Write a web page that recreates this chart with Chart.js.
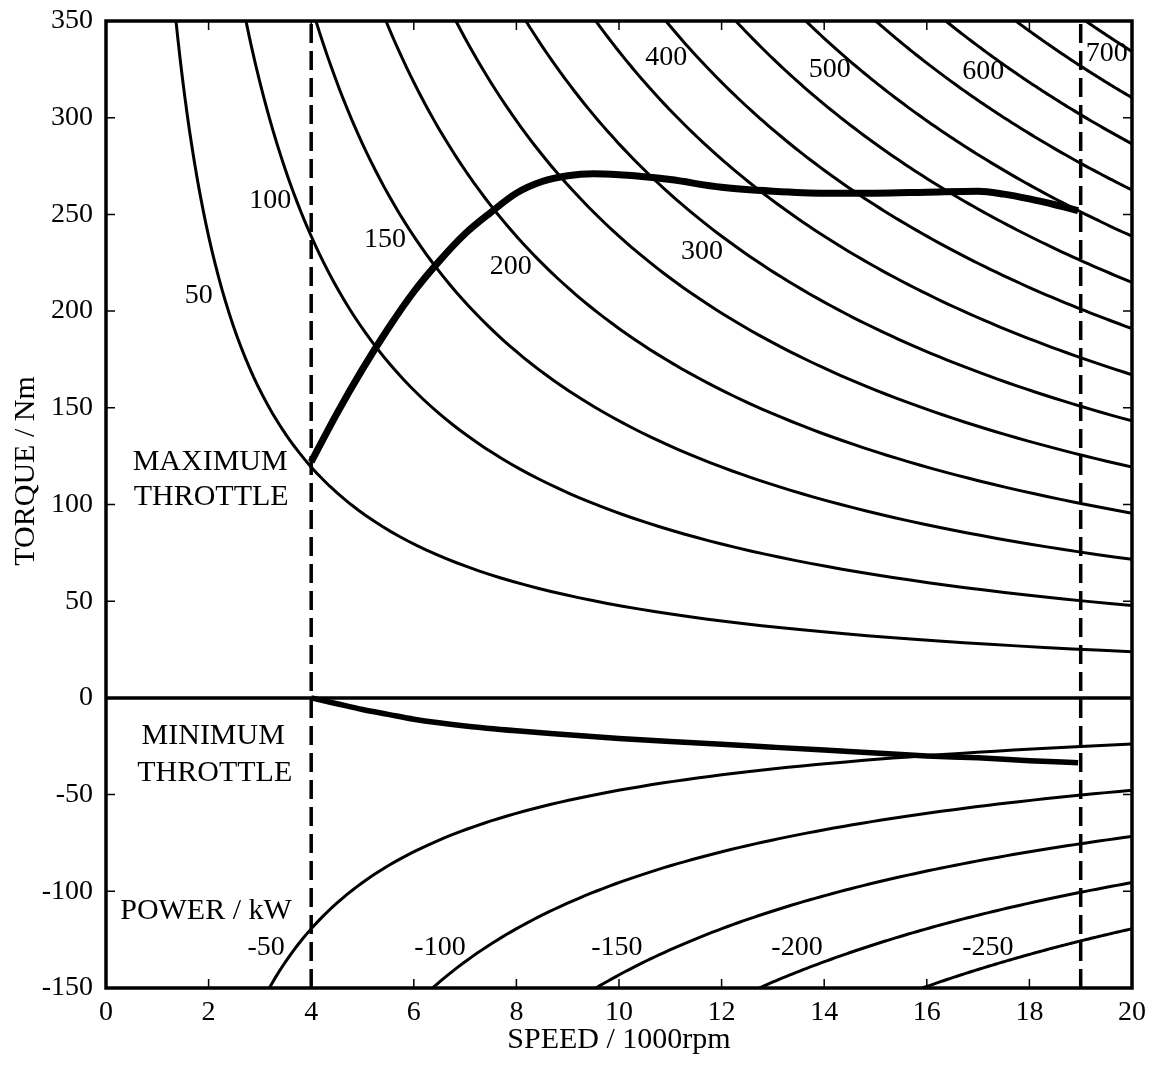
<!DOCTYPE html>
<html>
<head>
<meta charset="utf-8">
<title>Torque / speed map</title>
<script src="https://cdn.jsdelivr.net/npm/chart.js@4.4.1/dist/chart.umd.min.js"></script>
<style>
  html, body { margin: 0; padding: 0; background: #fff; }
  #wrap { width: 1159px; height: 1073px; }
</style>
</head>
<body>
<div id="wrap"><canvas id="torqueChart" width="1159" height="1073"></canvas></div>
<script>
// constant power lines (kW)
const drivePowers = [50, 100, 150, 200, 250, 300, 350, 400, 450, 500, 550, 600, 650, 700];
const brakePowers = [-50, -100, -150, -200, -250];

// maximum throttle curve (speed in 1000 rpm, torque in Nm)
const maxThrottleSpeed = [4.0, 4.5, 5.0, 5.5, 6.0, 6.5, 7.0, 7.5, 8.0, 8.5, 9.0, 9.5, 10.0, 10.5, 11.0, 12.0, 13.0, 14.0, 15.0, 16.0, 17.0, 17.5, 18.0, 18.5, 18.95];
const maxThrottleTorque = [122, 147, 170, 191, 210, 226, 240, 251, 261, 267, 270, 271, 270.5, 269.5, 268, 264, 262, 261, 261, 261.5, 262, 260.5, 258, 255, 252];

// minimum throttle curve
const minThrottleSpeed = [4.0, 4.5, 5.0, 5.5, 6.0, 7.0, 8.0, 9.0, 10.0, 11.0, 12.0, 13.0, 14.0, 15.0, 16.0, 17.0, 18.0, 18.95];
const minThrottleTorque = [0, -3, -6, -8.5, -11, -14.5, -17, -19, -21, -22.5, -24, -25.5, -27, -28.5, -30, -31, -32.5, -33.5];

// speed limits (dashed lines)
const speedLimits = [4, 19];

// text on the plot
const curveLabels = ["50", "100", "150", "200", "300", "400", "500", "600", "700", "-50", "-100", "-150", "-200", "-250"];
const curveLabelX = [1.81, 3.20, 5.44, 7.89, 11.62, 10.92, 14.11, 17.10, 19.51, 3.12, 6.51, 9.96, 13.47, 17.19];
const curveLabelY = [208, 257, 237, 223, 231, 331, 325, 324, 333, -129, -129, -129, -129, -129];

const noteLabels = ["MAXIMUM", "THROTTLE", "MINIMUM", "THROTTLE", "POWER / kW"];
const noteLabelX = [2.03, 2.05, 2.09, 2.12, 1.95];
const noteLabelY = [122, 104, -20, -39, -110.5];

const FONT = "'Liberation Serif', 'Times New Roman', serif";

// constant power: torque [Nm] = 60 * P[W] / (2*pi*n[rpm]), speed axis in 1000 rpm
function powerLine(kw) {
  const k = 60 * kw / (2 * Math.PI);
  const start = Math.abs(k) / (kw > 0 ? 350 : 150);
  const pts = [];
  const n = 90;
  for (let i = 0; i <= n; i++) {
    const s = start * Math.pow(20 / start, i / n);
    pts.push({ x: s, y: k / s });
  }
  return pts;
}

function toPoints(xs, ys) {
  return xs.map((x, i) => ({ x: x, y: ys[i] }));
}

const datasets = [];

drivePowers.concat(brakePowers).forEach((p) => {
  datasets.push({
    data: powerLine(p),
    borderColor: "#000",
    borderWidth: 3,
    tension: 0,
  });
});

// zero torque line
datasets.push({
  data: [{ x: 0, y: 0 }, { x: 20, y: 0 }],
  borderColor: "#000",
  borderWidth: 3.5,
});

// speed limits
speedLimits.forEach((s) => {
  datasets.push({
    data: [{ x: s, y: -150 }, { x: s, y: 350 }],
    borderColor: "#000",
    borderWidth: 3.5,
    borderDash: [19, 8],
  });
});

datasets.push({
  data: toPoints(maxThrottleSpeed, maxThrottleTorque),
  borderColor: "#000",
  borderWidth: 7,
  cubicInterpolationMode: "monotone",
});

datasets.push({
  data: toPoints(minThrottleSpeed, minThrottleTorque),
  borderColor: "#000",
  borderWidth: 5.5,
  cubicInterpolationMode: "monotone",
});

// frame, inner ticks, labels, axis titles
const decorPlugin = {
  id: "decor",
  afterDatasetsDraw(chart) {
    const { ctx, chartArea: a, scales } = chart;
    const xs = scales.x;
    const ys = scales.y;
    ctx.save();

    // inner tick marks on all four sides
    ctx.strokeStyle = "#000";
    ctx.lineWidth = 1.5;
    ctx.beginPath();
    xs.ticks.forEach((t) => {
      const px = xs.getPixelForValue(t.value);
      ctx.moveTo(px, a.bottom);
      ctx.lineTo(px, a.bottom - 9);
      ctx.moveTo(px, a.top);
      ctx.lineTo(px, a.top + 9);
    });
    ys.ticks.forEach((t) => {
      const py = ys.getPixelForValue(t.value);
      ctx.moveTo(a.left, py);
      ctx.lineTo(a.left + 9, py);
      ctx.moveTo(a.right, py);
      ctx.lineTo(a.right - 9, py);
    });
    ctx.stroke();

    // frame
    ctx.lineWidth = 3.5;
    ctx.strokeRect(a.left, a.top, a.right - a.left, a.bottom - a.top);

    // curve labels
    ctx.fillStyle = "#000";
    ctx.textAlign = "center";
    ctx.textBaseline = "middle";
    ctx.font = "28px " + FONT;
    curveLabels.forEach((txt, i) => {
      ctx.fillText(txt, xs.getPixelForValue(curveLabelX[i]), ys.getPixelForValue(curveLabelY[i]));
    });

    ctx.font = "30px " + FONT;
    noteLabels.forEach((txt, i) => {
      ctx.fillText(txt, xs.getPixelForValue(noteLabelX[i]), ys.getPixelForValue(noteLabelY[i]));
    });

    // axis titles
    ctx.textBaseline = "alphabetic";
    ctx.fillText("SPEED / 1000rpm", (a.left + a.right) / 2, 1048);
    ctx.translate(34, 471);
    ctx.rotate(-Math.PI / 2);
    ctx.fillText("TORQUE / Nm", 0, 0);

    ctx.restore();
  },
};

const ctx = document.getElementById("torqueChart").getContext("2d");

new Chart(ctx, {
  type: "scatter",
  data: { datasets: datasets },
  options: {
    responsive: false,
    animation: false,
    events: [],
    showLine: true,
    elements: {
      point: { radius: 0 },
      line: { fill: false, borderCapStyle: "butt" },
    },
    layout: {
      padding: { top: 21, right: 27, left: 0, bottom: 0 },
    },
    plugins: {
      legend: { display: false },
      tooltip: { enabled: false },
    },
    scales: {
      x: {
        type: "linear",
        min: 0,
        max: 20,
        afterFit(scale) {
          scale.height = 85;
          scale.paddingLeft = 0;
          scale.paddingRight = 0;
        },
        grid: { display: false, drawTicks: false },
        border: { display: false },
        ticks: {
          stepSize: 2,
          padding: 8,
          color: "#000",
          maxRotation: 0,
          font: { family: FONT, size: 28 },
        },
      },
      y: {
        type: "linear",
        min: -150,
        max: 350,
        afterFit(scale) {
          scale.width = 106;
          scale.paddingTop = 0;
          scale.paddingBottom = 0;
        },
        grid: { display: false, drawTicks: false },
        border: { display: false },
        ticks: {
          stepSize: 50,
          padding: 13,
          color: "#000",
          font: { family: FONT, size: 28 },
        },
      },
    },
  },
  plugins: [decorPlugin],
});
</script>
</body>
</html>
